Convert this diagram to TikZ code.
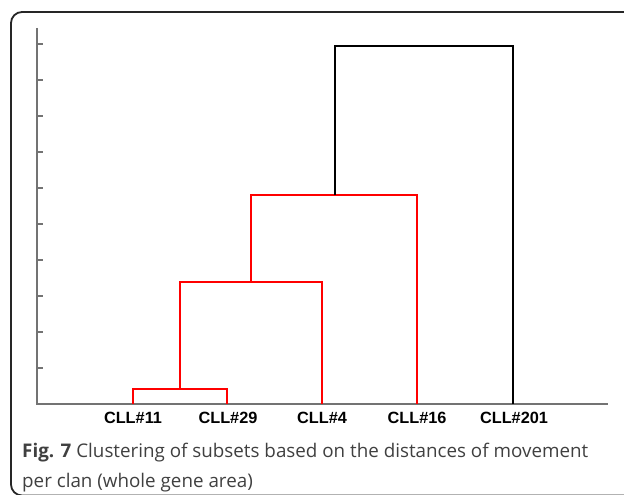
\documentclass[tikz,border=0pt]{standalone}
\usepackage{fontspec}
\setmainfont{Liberation Sans}
\newfontfamily\capfont{Open Sans}
\begin{document}
\begin{tikzpicture}[x=1pt,y=-1pt,
  axisline/.style={draw=black!55,line width=1.3pt},
  redlink/.style={draw=red,line width=2.3pt},
  blacklink/.style={draw=black,line width=2.3pt},
  leaflabel/.style={font=\fontsize{16.3}{19}\selectfont\bfseries,anchor=center,inner sep=0pt},
  captext/.style={font=\capfont\fontsize{18.8}{30}\selectfont,color=black!75,anchor=base west,inner sep=0pt}]
\useasboundingbox (0,0) rectangle (624,495);
\clip (0,0) rectangle (624,495);
% outer frame (runs off to the right and bottom)
\draw[draw=black!85,line width=1.8pt,rounded corners=11] (660,12) -- (11,12) -- (11,495.5) -- (660,495.5);
% axes
\coordinate (ytop) at (37,28);
\coordinate (orig) at (37,404);
\coordinate (xend) at (608,404);
\draw[axisline] (ytop) -- (orig) -- (xend);
\foreach \k in {1,...,10}
  \draw[axisline] (37,404-36*\k) -- (43,404-36*\k);
% leaves
\coordinate (l11) at (133,404);
\coordinate (l29) at (227,404);
\coordinate (l4) at (322,404);
\coordinate (l16) at (417,404);
\coordinate (l201) at (513,404);
% merge points
\coordinate (ma) at (180,389);
\coordinate (mb) at (251,282);
\coordinate (mc) at (335,195);
\coordinate (md) at (424,46);
\draw[redlink] (l11) |- (ma) -| (l29);
\draw[redlink] (ma) |- (mb) -| (l4);
\draw[redlink] (mb) |- (mc) -| (l16);
\draw[blacklink] (mc) |- (md) -| (l201);
% leaf labels
\node[leaflabel] (t11) at (133,417.5) {CLL\#11};
\node[leaflabel] (t29) at (228,417.5) {CLL\#29};
\node[leaflabel] (t4) at (322,417.5) {CLL\#4};
\node[leaflabel] (t16) at (417,417.5) {CLL\#16};
\node[leaflabel] (t201) at (514,417.5) {CLL\#201};
% caption
\node[captext] (cap1) at (22,457) {{\bfseries Fig. 7} Clustering of subsets based on the distances of movement};
\node[captext] (cap2) at (22,487) {per clan (whole gene area)};
\end{tikzpicture}
\end{document}
